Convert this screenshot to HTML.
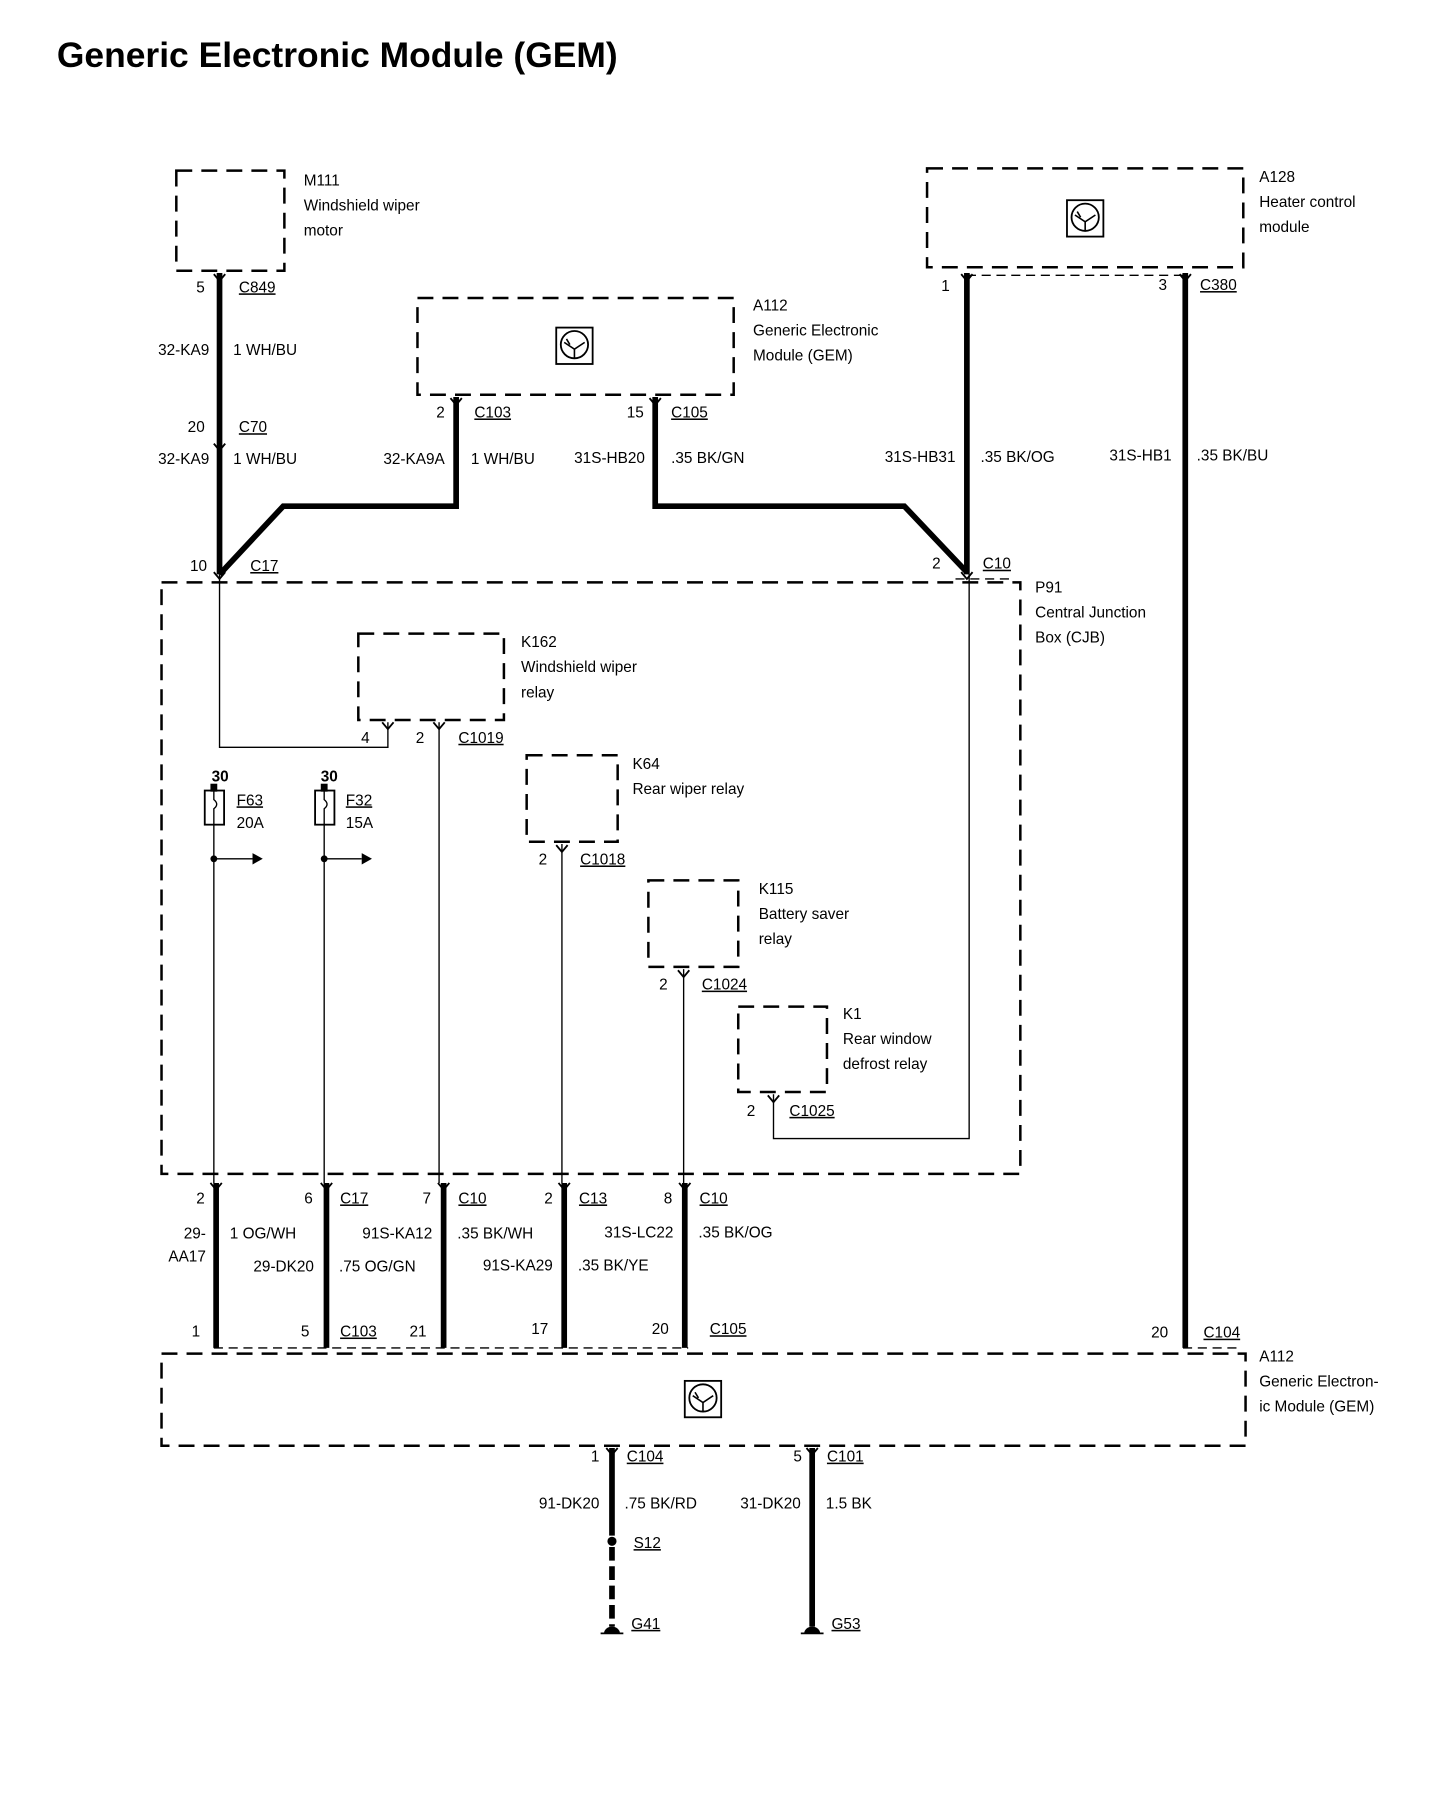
<!DOCTYPE html>
<html><head><meta charset="utf-8"><style>
html,body{margin:0;padding:0;background:#fff}
svg{display:block}
text{font-family:"Liberation Sans",Arial,sans-serif;font-size:13.5px;fill:#000}
.u{text-decoration:underline}
.r{text-anchor:end}
</style></head><body>
<svg width="1456" height="1808" viewBox="0 0 1280 1589.5" preserveAspectRatio="none" xmlns="http://www.w3.org/2000/svg">
<defs>
<g id="ic"><rect x="-16" y="-16" width="32" height="32" fill="none" stroke="#000" stroke-width="1.6"/><circle cx="0" cy="-1" r="12" fill="none" stroke="#000" stroke-width="1.6"/><path d="M-9,-3 L0,3 L9,-3 M0,3 V11 M-7,-6 L-4,-1" fill="none" stroke="#000" stroke-width="1.4"/></g>
<g id="ch"><path d="M-5,-5 L0,1 L5,-5" fill="none" stroke="#000" stroke-width="1.6"/></g>
</defs>
<text x="50" y="59" style="font-size:31px;font-weight:bold" textLength="493" lengthAdjust="spacingAndGlyphs">Generic Electronic Module (GEM)</text>

<g fill="none" stroke="#000" stroke-width="2.2" stroke-dasharray="14,8">
<rect x="155" y="150" width="95" height="88"/>
<rect x="367" y="262" width="278" height="85"/>
<rect x="815" y="148" width="278" height="87"/>
<rect x="142" y="512" width="755" height="520"/>
<rect x="315" y="557" width="128" height="76"/>
<rect x="463" y="664" width="80" height="76"/>
<rect x="570" y="774" width="79" height="76"/>
<rect x="649" y="885" width="78" height="75"/>
<rect x="142" y="1190" width="953" height="81"/>
</g>
<g fill="none" stroke="#000" stroke-width="1.2" stroke-dasharray="8,5">
<line x1="850" y1="242" x2="1042" y2="242"/>
<line x1="840" y1="509" x2="890" y2="509"/>
<line x1="188" y1="1185" x2="605" y2="1185"/>
<line x1="1040" y1="1185" x2="1092" y2="1185"/>
</g>
<use href="#ic" x="505" y="304"/>
<use href="#ic" x="954" y="192"/>
<use href="#ic" x="618" y="1230"/>

<g fill="none" stroke="#000" stroke-width="5" stroke-linejoin="miter">
<line x1="193" y1="240" x2="193" y2="505"/>
<polyline points="401,349 401,445 249,445 193,505"/>
<polyline points="576,349 576,445 795,445 850,503"/>
<line x1="850" y1="240" x2="850" y2="505"/>
<line x1="1042" y1="240" x2="1042" y2="1185"/>
<line x1="190" y1="1040" x2="190" y2="1185"/>
<line x1="287" y1="1040" x2="287" y2="1185"/>
<line x1="390" y1="1040" x2="390" y2="1185"/>
<line x1="496" y1="1040" x2="496" y2="1185"/>
<line x1="602" y1="1040" x2="602" y2="1185"/>
<line x1="538" y1="1273" x2="538" y2="1350"/>
<line x1="538" y1="1360" x2="538" y2="1430" stroke-dasharray="12,5"/>
<line x1="714" y1="1273" x2="714" y2="1430"/>
</g>
<circle cx="538" cy="1355" r="4"/>
<path d="M531,1436 a7,6 0 0 1 14,0 z"/><line x1="528" y1="1436" x2="548" y2="1436" stroke="#000" stroke-width="1.5"/>
<path d="M707,1436 a7,6 0 0 1 14,0 z"/><line x1="704" y1="1436" x2="724" y2="1436" stroke="#000" stroke-width="1.5"/>

<g fill="none" stroke="#000" stroke-width="1.2">
<polyline points="193,505 193,657 341,657 341,635"/>
<line x1="386" y1="635" x2="386" y2="1040"/>
<line x1="188" y1="725" x2="188" y2="1040"/>
<line x1="285" y1="725" x2="285" y2="1040"/>
<line x1="494" y1="742" x2="494" y2="1040"/>
<line x1="601" y1="852" x2="601" y2="1040"/>
<polyline points="680,962 680,1001 852,1001 852,505"/>
<line x1="188" y1="755" x2="222" y2="755"/>
<line x1="285" y1="755" x2="318" y2="755"/>
<rect x="180" y="695" width="17" height="30" stroke-width="1.6"/>
<rect x="277" y="695" width="17" height="30" stroke-width="1.6"/>
<path d="M188,695 v8 q5,4 0,8 v14 M285,695 v8 q5,4 0,8 v14"/>
</g>
<rect x="185" y="689" width="6" height="7"/><rect x="282" y="689" width="6" height="7"/>
<circle cx="188" cy="755" r="3"/><circle cx="285" cy="755" r="3"/>
<path d="M222,750 L231,755 L222,760 z"/><path d="M318,750 L327,755 L318,760 z"/>

<g>
<use href="#ch" x="193" y="246"/><use href="#ch" x="193" y="395"/><use href="#ch" x="193" y="508"/>
<use href="#ch" x="401" y="355"/><use href="#ch" x="576" y="355"/>
<use href="#ch" x="850" y="246"/><use href="#ch" x="1042" y="246"/><use href="#ch" x="850" y="508"/>
<use href="#ch" x="341" y="640"/><use href="#ch" x="386" y="640"/>
<use href="#ch" x="494" y="748"/><use href="#ch" x="601" y="858"/><use href="#ch" x="680" y="968"/>
<use href="#ch" x="190" y="1045"/><use href="#ch" x="287" y="1045"/><use href="#ch" x="390" y="1045"/><use href="#ch" x="496" y="1045"/><use href="#ch" x="602" y="1045"/>
<use href="#ch" x="538" y="1278"/><use href="#ch" x="714" y="1278"/>
</g>

<text x="267" y="163">M111</text><text x="267" y="185">Windshield wiper</text><text x="267" y="207">motor</text>
<text x="180" y="257" class="r">5</text><text x="210" y="257" class="u">C849</text>
<text x="184" y="312" class="r">32-KA9</text><text x="205" y="312">1 WH/BU</text>
<text x="180" y="380" class="r">20</text><text x="210" y="380" class="u">C70</text>
<text x="184" y="408" class="r">32-KA9</text><text x="205" y="408">1 WH/BU</text>
<text x="182" y="502" class="r">10</text><text x="220" y="502" class="u">C17</text>
<text x="662" y="273">A112</text><text x="662" y="295">Generic Electronic</text><text x="662" y="317">Module (GEM)</text>
<text x="391" y="367" class="r">2</text><text x="417" y="367" class="u">C103</text>
<text x="566" y="367" class="r">15</text><text x="590" y="367" class="u">C105</text>
<text x="391" y="408" class="r">32-KA9A</text><text x="414" y="408">1 WH/BU</text>
<text x="567" y="407" class="r">31S-HB20</text><text x="590" y="407">.35 BK/GN</text>
<text x="1107" y="160">A128</text><text x="1107" y="182">Heater control</text><text x="1107" y="204">module</text>
<text x="835" y="256" class="r">1</text><text x="1026" y="255" class="r">3</text><text x="1055" y="255" class="u">C380</text>
<text x="840" y="406" class="r">31S-HB31</text><text x="862" y="406">.35 BK/OG</text>
<text x="1030" y="405" class="r">31S-HB1</text><text x="1052" y="405">.35 BK/BU</text>
<text x="827" y="500" class="r">2</text><text x="864" y="500" class="u">C10</text>
<text x="910" y="521">P91</text><text x="910" y="543">Central Junction</text><text x="910" y="565">Box (CJB)</text>
<text x="458" y="569">K162</text><text x="458" y="591">Windshield wiper</text><text x="458" y="613">relay</text>
<text x="325" y="653" class="r">4</text><text x="373" y="653" class="r">2</text><text x="403" y="653" class="u">C1019</text>
<text x="186" y="687" style="font-weight:bold">30</text><text x="282" y="687" style="font-weight:bold">30</text>
<text x="208" y="708" class="u">F63</text><text x="208" y="728">20A</text>
<text x="304" y="708" class="u">F32</text><text x="304" y="728">15A</text>
<text x="556" y="676">K64</text><text x="556" y="698">Rear wiper relay</text>
<text x="481" y="760" class="r">2</text><text x="510" y="760" class="u">C1018</text>
<text x="667" y="786">K115</text><text x="667" y="808">Battery saver</text><text x="667" y="830">relay</text>
<text x="587" y="870" class="r">2</text><text x="617" y="870" class="u">C1024</text>
<text x="741" y="896">K1</text><text x="741" y="918">Rear window</text><text x="741" y="940">defrost relay</text>
<text x="664" y="981" class="r">2</text><text x="694" y="981" class="u">C1025</text>
<text x="180" y="1058" class="r">2</text>
<text x="275" y="1058" class="r">6</text><text x="299" y="1058" class="u">C17</text>
<text x="379" y="1058" class="r">7</text><text x="403" y="1058" class="u">C10</text>
<text x="486" y="1058" class="r">2</text><text x="509" y="1058" class="u">C13</text>
<text x="591" y="1058" class="r">8</text><text x="615" y="1058" class="u">C10</text>
<text x="181" y="1089" class="r">29-</text><text x="181" y="1109" class="r">AA17</text><text x="202" y="1089">1 OG/WH</text>
<text x="276" y="1118" class="r">29-DK20</text><text x="298" y="1118">.75 OG/GN</text>
<text x="380" y="1089" class="r">91S-KA12</text><text x="402" y="1089">.35 BK/WH</text>
<text x="486" y="1117" class="r">91S-KA29</text><text x="508" y="1117">.35 BK/YE</text>
<text x="592" y="1088" class="r">31S-LC22</text><text x="614" y="1088">.35 BK/OG</text>
<text x="176" y="1175" class="r">1</text>
<text x="272" y="1175" class="r">5</text><text x="299" y="1175" class="u">C103</text>
<text x="375" y="1175" class="r">21</text>
<text x="482" y="1173" class="r">17</text>
<text x="588" y="1173" class="r">20</text><text x="624" y="1173" class="u">C105</text>
<text x="1027" y="1176" class="r">20</text><text x="1058" y="1176" class="u">C104</text>
<text x="1107" y="1197">A112</text><text x="1107" y="1219">Generic Electron-</text><text x="1107" y="1241">ic Module (GEM)</text>
<text x="527" y="1285" class="r">1</text><text x="551" y="1285" class="u">C104</text>
<text x="705" y="1285" class="r">5</text><text x="727" y="1285" class="u">C101</text>
<text x="527" y="1326" class="r">91-DK20</text><text x="549" y="1326">.75 BK/RD</text>
<text x="704" y="1326" class="r">31-DK20</text><text x="726" y="1326">1.5 BK</text>
<text x="557" y="1361" class="u">S12</text>
<text x="555" y="1432" class="u">G41</text><text x="731" y="1432" class="u">G53</text>
</svg>
</body></html>
